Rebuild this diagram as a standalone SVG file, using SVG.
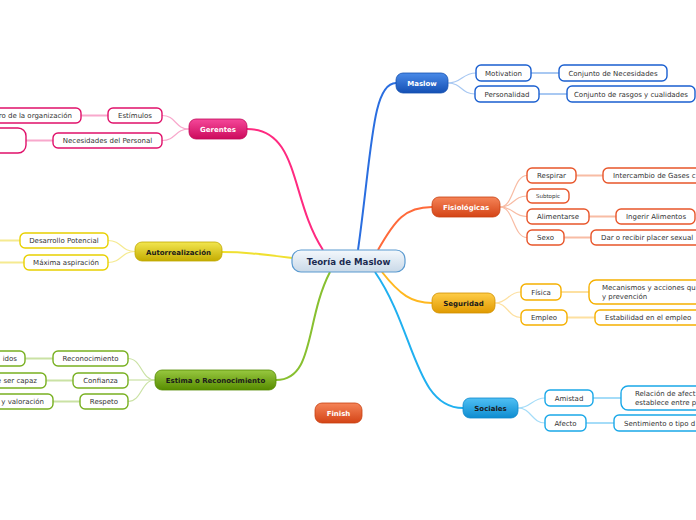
<svg xmlns="http://www.w3.org/2000/svg" width="696" height="520" viewBox="0 0 696 520">
<defs>
<linearGradient id="gC" x1="0" y1="0" x2="0" y2="1"><stop offset="0" stop-color="#f4f8fc"/><stop offset="1" stop-color="#c9d9e8"/></linearGradient>
<linearGradient id="gBlue" x1="0" y1="0" x2="0" y2="1"><stop offset="0" stop-color="#4a8ae8"/><stop offset="1" stop-color="#1450b4"/></linearGradient>
<linearGradient id="gPink" x1="0" y1="0" x2="0" y2="1"><stop offset="0" stop-color="#f5489a"/><stop offset="1" stop-color="#cc0a5c"/></linearGradient>
<linearGradient id="gYel" x1="0" y1="0" x2="0" y2="1"><stop offset="0" stop-color="#f2e650"/><stop offset="1" stop-color="#c4ac00"/></linearGradient>
<linearGradient id="gOr" x1="0" y1="0" x2="0" y2="1"><stop offset="0" stop-color="#f58458"/><stop offset="1" stop-color="#d44416"/></linearGradient>
<linearGradient id="gAmb" x1="0" y1="0" x2="0" y2="1"><stop offset="0" stop-color="#ffcd48"/><stop offset="1" stop-color="#e09a00"/></linearGradient>
<linearGradient id="gGrn" x1="0" y1="0" x2="0" y2="1"><stop offset="0" stop-color="#98c840"/><stop offset="1" stop-color="#578c00"/></linearGradient>
<linearGradient id="gCy" x1="0" y1="0" x2="0" y2="1"><stop offset="0" stop-color="#50c0f4"/><stop offset="1" stop-color="#0e8cd0"/></linearGradient>
</defs>
<style>
text{font-family:"DejaVu Sans","Verdana",sans-serif;font-size:7px;fill:#333}
.m{font-size:7px;font-weight:bold;text-anchor:middle}
.w{fill:#fff}
.d{fill:#1a1a1a}
.c{text-anchor:middle}
.s{fill:#fff;stroke-width:1.4}
.main{stroke-width:0.8}
.ln{fill:none;stroke-width:2}
.sl{fill:none;stroke-width:1.2}
.gl{fill:none;stroke-width:2}
</style>
<g id="connectors">
<path class="ln" stroke="#2a6ee0" d="M358,250 C372,150 372,83 396,83"/>
<path class="ln" stroke="#ff2a80" d="M323,250 C290,200 300,129 247,129"/>
<path class="ln" stroke="#ff6a3a" d="M378,250 C395,220 405,207 432,207"/>
<path class="ln" stroke="#f0e030" d="M292,258 C260,254 245,252 222,252"/>
<path class="ln" stroke="#ffb820" d="M382,272 C400,295 412,303 432,303"/>
<path class="ln" stroke="#88c030" d="M330,272 C305,320 315,380 276,380"/>
<path class="ln" stroke="#20b0f0" d="M375,272 C415,330 415,408 463,408"/>

<g stroke="#a8c8f2">
<path class="sl" d="M448,83 C462,83 462,73 476,73"/>
<path class="sl" d="M448,83 C462,83 461,94 475,94"/>
<path class="gl" d="M531,73 H559 M539,94 H567"/>
</g>
<g stroke="#f8a8cc">
<path class="sl" d="M189,129 C175,129 176,115.5 162,115.5"/>
<path class="sl" d="M189,129 C175,129 176,140.5 162,140.5"/>
<path class="gl" d="M108,115.5 H81 M53,140.5 H26"/>
</g>
<g stroke="#f5ea90">
<path class="sl" d="M135,251.5 C121,251.5 122,240.5 108,240.5"/>
<path class="sl" d="M135,251.5 C121,251.5 122,262.5 108,262.5"/>
<path class="gl" d="M20,240.5 H0 M24,262.5 H0"/>
</g>
<g stroke="#cae2a4">
<path class="sl" d="M155,380 C141,380 142,358.5 128,358.5"/>
<path class="sl" d="M155,380 H128"/>
<path class="sl" d="M155,380 C141,380 142,401.5 128,401.5"/>
<path class="gl" d="M53,358.5 H25 M73,380.5 H46 M80,401.5 H53"/>
</g>
<g stroke="#f8bca4">
<path class="sl" d="M500,207 C514,207 513,175.5 527,175.5"/>
<path class="sl" d="M500,207 C514,207 513,196 527,196"/>
<path class="sl" d="M500,207 C514,207 513,216.5 527,216.5"/>
<path class="sl" d="M500,207 C514,207 513,237.5 527,237.5"/>
<path class="gl" d="M576,175.5 H603 M589,216.5 H616 M564,237.5 H591"/>
</g>
<g stroke="#fde0a0">
<path class="sl" d="M495,303 C508,303 508,292 521,292"/>
<path class="sl" d="M495,303 C508,303 508,317.5 521,317.5"/>
<path class="gl" d="M561,292 H589 M567,317.5 H595"/>
</g>
<g stroke="#a4dcf8">
<path class="sl" d="M518,408 C531,408 532,398 545,398"/>
<path class="sl" d="M518,408 C531,408 532,423 545,423"/>
<path class="gl" d="M593,398 H621 M586,423 H614"/>
</g>
</g>

<g id="center">
<rect x="292" y="250" width="113" height="22" rx="9" fill="url(#gC)" stroke="#5a9ad0" stroke-width="1.2"/>
<text x="348.5" y="264.5" class="c" style="font-size:8.6px;font-weight:bold;fill:#1a2a50">Teoría de Maslow</text>
</g>

<g id="maslow">
<rect x="396" y="73" width="52" height="20" rx="7" fill="url(#gBlue)" stroke="#1450b0" class="main"/>
<text x="422" y="86" class="m w">Maslow</text>
<rect x="476" y="65" width="55" height="16" rx="5" class="s" stroke="#1a5fd0"/>
<text x="503.5" y="75.8" class="c">Motivation</text>
<rect x="475" y="86" width="64" height="16" rx="5" class="s" stroke="#1a5fd0"/>
<text x="507" y="96.8" class="c">Personalidad</text>
<rect x="559" y="65" width="108" height="16" rx="5" class="s" stroke="#1a5fd0"/>
<text x="613" y="75.8" class="c">Conjunto de Necesidades</text>
<rect x="567" y="86" width="128" height="16" rx="5" class="s" stroke="#1a5fd0"/>
<text x="631" y="96.8" class="c">Conjunto de rasgos y cualidades</text>
</g>

<g id="gerentes">
<rect x="189" y="119" width="58" height="20" rx="7" fill="url(#gPink)" stroke="#c00858" class="main"/>
<text x="218" y="132" class="m w">Gerentes</text>
<rect x="108" y="108" width="54" height="15" rx="5" class="s" stroke="#e0106a"/>
<text x="135" y="118.3" class="c">Estímulos</text>
<rect x="-20" y="108" width="101" height="15" rx="5" class="s" stroke="#e0106a"/>
<text x="72" y="118.3" style="text-anchor:end">ro de la organización</text>
<rect x="53" y="133" width="109" height="15" rx="5" class="s" stroke="#e0106a"/>
<text x="107.5" y="143.3" class="c">Necesidades del Personal</text>
<rect x="-12" y="128" width="38" height="25" rx="8" class="s" stroke="#e0106a"/>
</g>

<g id="autorrealizacion">
<rect x="135" y="242" width="87" height="19" rx="7" fill="url(#gYel)" stroke="#c0a800" class="main"/>
<text x="178.5" y="254.5" class="m d">Autorrealización</text>
<rect x="20" y="233" width="88" height="15" rx="5" class="s" stroke="#e8d000"/>
<text x="64" y="243.3" class="c">Desarrollo Potencial</text>
<rect x="24" y="255" width="84" height="15" rx="5" class="s" stroke="#e8d000"/>
<text x="66" y="265.3" class="c">Máxima aspiración</text>
</g>

<g id="estima">
<rect x="155" y="370" width="121" height="20" rx="7" fill="url(#gGrn)" stroke="#548a00" class="main"/>
<text x="215.5" y="383" class="m d">Estima o Reconocimiento</text>
<rect x="53" y="351" width="75" height="15" rx="5" class="s" stroke="#78b020"/>
<text x="90.5" y="361.3" class="c">Reconocimiento</text>
<rect x="73" y="373" width="55" height="15" rx="5" class="s" stroke="#78b020"/>
<text x="100.5" y="383.3" class="c">Confianza</text>
<rect x="80" y="394" width="48" height="15" rx="5" class="s" stroke="#78b020"/>
<text x="104" y="404.3" class="c">Respeto</text>
<rect x="-20" y="351" width="45" height="15" rx="5" class="s" stroke="#78b020"/>
<text x="17" y="361.3" style="text-anchor:end">idos</text>
<rect x="-20" y="373" width="66" height="15" rx="5" class="s" stroke="#78b020"/>
<text x="37" y="383.3" style="text-anchor:end">e ser capaz</text>
<rect x="-20" y="394" width="73" height="15" rx="5" class="s" stroke="#78b020"/>
<text x="44" y="404.3" style="text-anchor:end">y valoración</text>
</g>

<g id="fisiologicas">
<rect x="432" y="197" width="68" height="20" rx="7" fill="url(#gOr)" stroke="#c84010" class="main"/>
<text x="466" y="210" class="m w">Fisiológicas</text>
<rect x="527" y="168" width="49" height="15" rx="5" class="s" stroke="#e8552a"/>
<text x="551.5" y="178.3" class="c">Respirar</text>
<rect x="527" y="189" width="42" height="14" rx="5" class="s" stroke="#e8552a"/>
<text x="548" y="198" class="c" style="font-size:5.5px">Subtopic</text>
<rect x="527" y="209" width="62" height="15" rx="5" class="s" stroke="#e8552a"/>
<text x="558" y="219.3" class="c">Alimentarse</text>
<rect x="527" y="230" width="37" height="15" rx="5" class="s" stroke="#e8552a"/>
<text x="545.5" y="240.3" class="c">Sexo</text>
<rect x="603" y="168" width="110" height="15" rx="5" class="s" stroke="#e8552a"/>
<text x="613" y="178.3">Intercambio de Gases c</text>
<rect x="616" y="209" width="79" height="15" rx="5" class="s" stroke="#e8552a"/>
<text x="656" y="219.3" class="c">Ingerir Alimentos</text>
<rect x="591" y="230" width="110" height="15" rx="5" class="s" stroke="#e8552a"/>
<text x="601" y="240.3">Dar o recibir placer sexual</text>
</g>

<g id="seguridad">
<rect x="432" y="293" width="63" height="20" rx="7" fill="url(#gAmb)" stroke="#d09000" class="main"/>
<text x="463.5" y="306" class="m d">Seguridad</text>
<rect x="521" y="284" width="40" height="16" rx="5" class="s" stroke="#f5b000"/>
<text x="541" y="294.8" class="c">Física</text>
<rect x="521" y="310" width="46" height="15" rx="5" class="s" stroke="#f5b000"/>
<text x="544" y="320.3" class="c">Empleo</text>
<rect x="589" y="280" width="120" height="24" rx="7" class="s" stroke="#f5b000"/>
<text x="602" y="290.3">Mecanismos y acciones qu</text>
<text x="602" y="299.3">y prevención</text>
<rect x="595" y="310" width="110" height="15" rx="5" class="s" stroke="#f5b000"/>
<text x="605" y="320.3">Estabilidad en el empleo</text>
</g>

<g id="sociales">
<rect x="463" y="398" width="55" height="20" rx="7" fill="url(#gCy)" stroke="#0c88cc" class="main"/>
<text x="490.5" y="411" class="m d">Sociales</text>
<rect x="545" y="390" width="48" height="16" rx="5" class="s" stroke="#1aa8e8"/>
<text x="569" y="400.8" class="c">Amistad</text>
<rect x="545" y="415" width="41" height="16" rx="5" class="s" stroke="#1aa8e8"/>
<text x="565.5" y="425.8" class="c">Afecto</text>
<rect x="621" y="386" width="90" height="24" rx="7" class="s" stroke="#1aa8e8"/>
<text x="635" y="396.3">Relación de afect</text>
<text x="635" y="405.3">establece entre p</text>
<rect x="614" y="415" width="90" height="16" rx="5" class="s" stroke="#1aa8e8"/>
<text x="624" y="425.8">Sentimiento o tipo d</text>
</g>

<g id="finish">
<rect x="315" y="403" width="47" height="20" rx="7" fill="url(#gOr)" stroke="#c84010" class="main"/>
<text x="338.5" y="416" class="m w">Finish</text>
</g>
</svg>
